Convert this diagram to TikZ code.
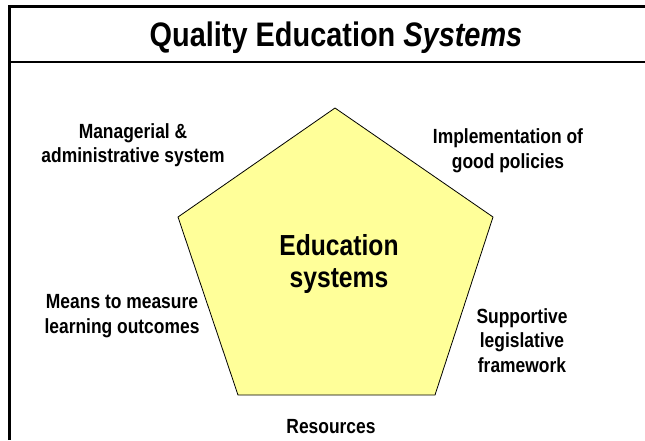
\documentclass[tikz,border=0pt]{standalone}
\usepackage{fontspec}
\setmainfont{Liberation Sans}[FakeStretch=0.85]
\usepackage{tikz}

\definecolor{paleyellow}{RGB}{255,255,153}
\tikzset{
  side/.style={align=center,inner sep=0pt,anchor=base,font=\bfseries\fontsize{20.5}{24.5}\selectfont},
  core/.style={align=center,inner sep=0pt,anchor=base,font=\bfseries\fontsize{29}{32}\selectfont}
}

\begin{document}
\begin{tikzpicture}[x=1pt,y=-1pt]
\useasboundingbox (0,0) rectangle (645,440);
\draw[line width=2.5pt] (9.5,440) -- (9.5,6.5) -- (645,6.5);
\draw[line width=1.5pt] (9.5,62) -- (645,62);
\node[inner sep=0pt,anchor=base,font=\bfseries\fontsize{34}{38}\selectfont] (title) at (336,46) {Quality Education \textit{Systems}};

\coordinate (p1) at (335,108);
\coordinate (p2) at (493,217);
\coordinate (p3) at (435,395);
\coordinate (p4) at (238,395);
\coordinate (p5) at (178,217);
\filldraw[fill=paleyellow,draw=black,line width=0.8pt] (p1) -- (p2) -- (p3) -- (p4) -- (p5) -- cycle;

\node[core] (edu) at (339,287) {Education\\systems};

\node[side] (mgmt) at (133,162.5) {Managerial \&\\administrative system};
\node[side] (policy) at (508,168) {Implementation of\\good policies};
\node[side] (measure) at (122,333) {Means to measure\\learning outcomes};
\node[side] (legal) at (522,372) {Supportive\\legislative\\framework};
\node[side] (resource) at (331,433) {Resources};
\end{tikzpicture}
\end{document}
